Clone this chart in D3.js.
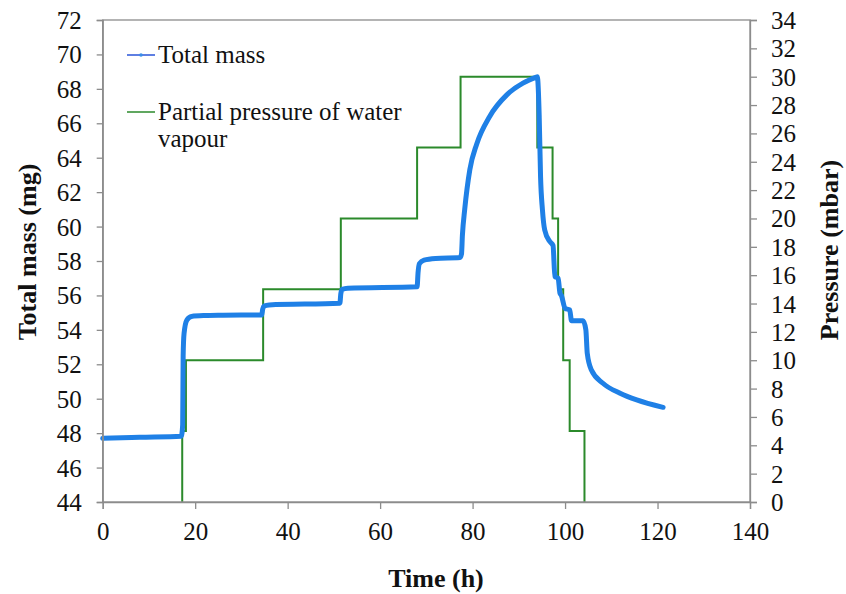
<!DOCTYPE html>
<html>
<head>
<meta charset="utf-8">
<script src="https://cdn.jsdelivr.net/npm/d3@7"></script>
<style>
body { margin: 0; background: #fff; }
text { font-family: "Liberation Serif", "Times New Roman", serif; fill: #111; }
</style>
</head>
<body>
<script>
// total mass curve (h, mg)
const massTime = [0, 8, 17.0, 17.3, 17.4, 17.6, 18.2, 19.2, 22, 26, 34.4,
  34.6, 34.9, 36, 51.3, 51.5, 51.8, 53, 68.0, 68.2, 68.5, 69.5, 72, 77.3,
  77.6, 77.8, 78.3, 79.4, 80.9, 83.7, 87.4, 90.9, 93.8, 94.0, 94.4, 94.7,
  95.1, 95.6, 96.7, 97.4, 97.8, 98.5, 98.9, 99.2, 100.0, 101.0, 101.4, 103.9,
  104.5, 104.8, 105.7, 108.2, 111.9, 115.5, 121.2];
const massValue = [47.70, 47.76, 47.82, 48.5, 52.5, 53.8, 54.57, 54.78, 54.83, 54.85, 54.87,
  55.2, 55.38, 55.45, 55.55, 56.1, 56.35, 56.42, 56.5, 57.3, 57.85, 58.05, 58.15, 58.2,
  58.4, 59.5, 61.0, 63.3, 64.8, 66.4, 67.65, 68.33, 68.68, 68.7, 66.5, 62.9,
  61.0, 59.8, 59.13, 58.9, 57.1, 57.0, 56.13, 56.0, 55.25, 55.16, 54.53, 54.53,
  54.0, 52.64, 51.67, 50.9, 50.32, 49.93, 49.5];

// partial pressure of water vapour, step levels (h, mbar)
const pressTime = [17.2, 17.2, 18.0, 34.7, 51.5, 68.0, 77.4, 94.0, 97.3, 98.5, 99.6, 101.0, 104.2, 104.4];
const pressValue = [0, 5, 10, 15, 20, 25, 30, 25, 20, 15, 10, 5, 0, 0];

const xTicks = [0, 20, 40, 60, 80, 100, 120, 140];
const massTicks = d3.range(44, 73, 2);
const pressTicks = d3.range(0, 35, 2);

const legendLabels = ["Total mass", "Partial pressure of water", "vapour"];

const W = 846, H = 594;
const margin = {top: 20, right: 96, bottom: 92, left: 102.7};
const iw = 750 - margin.left, ih = 502 - margin.top;

const svg = d3.select("body").append("svg")
  .attr("width", W).attr("height", H);

const x = d3.scaleLinear().domain([0, 140]).range([margin.left, 750]);
const yMass = d3.scaleLinear().domain([44, 72]).range([502, 20]);
const yPress = d3.scaleLinear().domain([0, 34]).range([502, 20]);

const blue = "#1f80e6", green = "#2b8a2b", axisCol = "#8c8c8c";

const massData = massTime.map((t, i) => [t, massValue[i]]);
const pressData = pressTime.map((t, i) => [t, pressValue[i]]);

// lines
svg.append("path")
  .datum(pressData)
  .attr("fill", "none")
  .attr("stroke", green)
  .attr("stroke-width", 2)
  .attr("d", d3.line().x(d => x(d[0])).y(d => yPress(d[1])).curve(d3.curveStepAfter));

svg.append("path")
  .datum(massData)
  .attr("fill", "none")
  .attr("stroke", blue)
  .attr("stroke-width", 5)
  .attr("stroke-linejoin", "round")
  .attr("stroke-linecap", "round")
  .attr("d", d3.line().x(d => x(d[0])).y(d => yMass(d[1])).curve(d3.curveMonotoneX));

// plot box
svg.append("rect")
  .attr("x", margin.left).attr("y", 20)
  .attr("width", iw).attr("height", ih)
  .attr("fill", "none").attr("stroke", axisCol).attr("stroke-width", 1.3);

// axes
const xAxis = d3.axisBottom(x).tickValues(xTicks).tickSize(7).tickPadding(13);
const gx = svg.append("g").attr("transform", "translate(0,502)").call(xAxis);

const yAxisL = d3.axisLeft(yMass).tickValues(massTicks).tickSize(6).tickPadding(15);
const gyl = svg.append("g").attr("transform", "translate(" + margin.left + ",0)").call(yAxisL);

const yAxisR = d3.axisRight(yPress).tickValues(pressTicks).tickSize(7).tickPadding(14);
const gyr = svg.append("g").attr("transform", "translate(750,0)").call(yAxisR);

[gx, gyl, gyr].forEach(g => {
  g.select(".domain").attr("stroke", axisCol).attr("stroke-width", 1.3);
  g.selectAll(".tick line").attr("stroke", axisCol).attr("stroke-width", 1.3);
  g.selectAll("text")
    .style("font-family", "'Liberation Serif', 'Times New Roman', serif")
    .style("font-size", "25px")
    .attr("fill", "#111");
});
gyl.selectAll("text").attr("dy", "0.34em");
gyr.selectAll("text").attr("dy", "0.34em");

// axis titles
svg.append("text")
  .attr("x", 436).attr("y", 587)
  .attr("text-anchor", "middle")
  .style("font-size", "26px").style("font-weight", "bold")
  .text("Time (h)");

svg.append("text")
  .attr("transform", "translate(36,252) rotate(-90)")
  .attr("text-anchor", "middle")
  .style("font-size", "26px").style("font-weight", "bold")
  .text("Total mass (mg)");

svg.append("text")
  .attr("transform", "translate(838,250) rotate(-90)")
  .attr("text-anchor", "middle")
  .style("font-size", "26px").style("font-weight", "bold")
  .text("Pressure (mbar)");

// legend
const lg = svg.append("g");
lg.append("line").attr("x1", 127).attr("x2", 155).attr("y1", 55).attr("y2", 55)
  .attr("stroke", "#2a55d8").attr("stroke-width", 1.5);
lg.append("circle").attr("cx", 141).attr("cy", 55).attr("r", 1.8).attr("fill", "#3a8ee8");
lg.append("line").attr("x1", 127).attr("x2", 155).attr("y1", 112).attr("y2", 112)
  .attr("stroke", green).attr("stroke-width", 1.5);

lg.selectAll("text.leg")
  .data(legendLabels)
  .enter().append("text")
  .attr("class", "leg")
  .attr("x", 158)
  .attr("y", (d, i) => [63, 120, 147][i])
  .style("font-size", "25px")
  .text(d => d);
</script>
</body>
</html>
